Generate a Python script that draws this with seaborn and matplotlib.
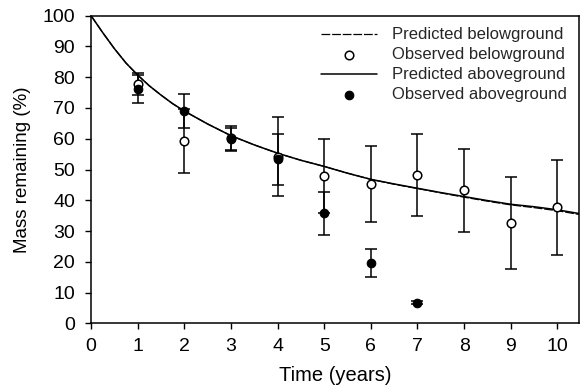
import matplotlib
matplotlib.use("Agg")
import matplotlib.pyplot as plt
import seaborn as sns
import pandas as pd
import numpy as np

# Model predictions (% mass remaining)
pred_time = [0, 0.25, 0.5, 0.75, 1, 1.25, 1.5, 1.75, 2, 2.5, 3, 3.5, 4, 4.5,
             5, 5.5, 6, 6.5, 7, 7.5, 8, 8.5, 9, 9.5, 10, 10.46]
pred_above = [100, 94.5, 89.3, 84.6, 80.7, 77.2, 74.2, 71.4, 69.0, 64.8,
              61.0, 58.0, 55.3, 53.0, 51.0, 48.8, 46.8, 45.3, 43.9, 42.5,
              41.2, 39.9, 38.7, 37.9, 36.9, 35.7]
pred_below = [100, 94.5, 89.3, 84.6, 80.7, 77.2, 74.2, 71.4, 69.0, 64.8,
              61.0, 58.0, 55.3, 53.0, 51.0, 48.8, 46.8, 45.2, 43.8, 42.4,
              41.0, 39.7, 38.5, 37.6, 36.6, 35.4]

# Observed litter-bag data: mean and standard error
below_time = [1, 2, 3, 4, 5, 6, 7, 8, 9, 10]
below_mean = [77.8, 59.4, 60.3, 54.2, 47.9, 45.4, 48.3, 43.3, 32.7, 37.7]
below_se = [3.5, 10.4, 3.8, 12.9, 12.0, 12.4, 13.4, 13.5, 15.0, 15.4]

above_time = [1, 2, 3, 4, 5, 6, 7]
above_mean = [76.2, 69.0, 59.8, 53.3, 35.8, 19.6, 6.7]
above_se = [4.5, 5.4, 3.8, 8.2, 7.0, 4.6, 0.5]

legend_labels = ["Predicted belowground", "Observed belowground",
                 "Predicted aboveground", "Observed aboveground"]

sns.set_theme(style="ticks")
plt.rcParams["font.family"] = ["Liberation Sans", "DejaVu Sans"]

fig = plt.figure(figsize=(5.8, 3.87), dpi=100)
ax = fig.add_axes([0.157, 0.1646, 0.841, 0.7948])

pred_df = pd.DataFrame({"t": pred_time, "above": pred_above, "below": pred_below})
sns.lineplot(data=pred_df, x="t", y="below", ax=ax, color="black", lw=0.9,
             linestyle=(0, (7, 1.5)), label=legend_labels[0], sort=True)
sns.lineplot(data=pred_df, x="t", y="above", ax=ax, color="black", lw=1.1,
             label=legend_labels[2], sort=True)

# error bars first, then markers on top
ax.errorbar(below_time, below_mean, yerr=below_se, fmt="none", ecolor="black",
            elinewidth=1.1, capsize=4.5, capthick=1.1, zorder=3)
ax.errorbar(above_time, above_mean, yerr=above_se, fmt="none", ecolor="black",
            elinewidth=1.1, capsize=4.5, capthick=1.1, zorder=3)

below_df = pd.DataFrame({"t": below_time, "m": below_mean})
above_df = pd.DataFrame({"t": above_time, "m": above_mean})
sns.scatterplot(data=below_df, x="t", y="m", ax=ax, marker="o", s=38,
                facecolor="white", edgecolor="black", linewidth=1.1,
                label=legend_labels[1], zorder=4)
sns.scatterplot(data=above_df, x="t", y="m", ax=ax, marker="o", s=38,
                color="black", edgecolor="black", linewidth=0.8,
                label=legend_labels[3], zorder=5)

ax.set_xlim(0, 10.46)
ax.set_ylim(0, 100)
ax.set_xticks(range(0, 11))
ax.set_yticks(range(0, 101, 10))
ax.tick_params(axis="both", labelsize=14, length=4.5, width=1, color="black",
               labelcolor="black")
ax.tick_params(axis="x", pad=6)
ax.tick_params(axis="y", pad=7)
for side in ax.spines.values():
    side.set_color("black")
    side.set_linewidth(1.1)
ax.set_xlabel("Time (years)", fontsize=14.5, color="black", labelpad=8)
ax.set_ylabel("Mass remaining (%)", fontsize=13.5, color="black", labelpad=8)
ax.grid(False)

handles, labels = ax.get_legend_handles_labels()
order = [labels.index(l) for l in legend_labels]
leg = ax.legend([handles[i] for i in order], [labels[i] for i in order],
                loc="upper right", frameon=False, fontsize=12,
                handlelength=3.4, handletextpad=0.9, labelspacing=0.3,
                borderaxespad=0.3, bbox_to_anchor=(1.0, 1.0))

fig.savefig("out.png", dpi=100)
